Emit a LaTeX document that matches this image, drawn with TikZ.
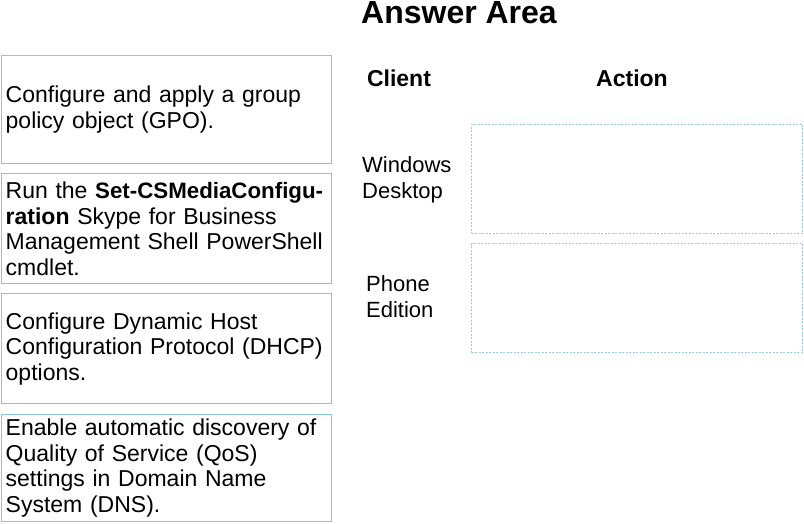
\documentclass[tikz,border=0pt]{standalone}
\usepackage{fontspec}
\setmainfont{Liberation Sans}
\usetikzlibrary{positioning}
\definecolor{boxblue}{HTML}{86C6DE}
\definecolor{dropblue}{HTML}{96CDD8}

\begin{document}
\begin{tikzpicture}[x=1pt, y=-1pt,
    choice/.style={draw=boxblue, line width=1.4pt, anchor=north west,
        minimum width=330pt, minimum height=108pt, inner xsep=4pt,
        text width=322pt, align=left, font=\fontsize{23}{25.5}\selectfont},
    dropzone/.style={draw=dropblue, line width=1pt, dash pattern=on 2pt off 1.5pt,
        anchor=north west, minimum width=331pt, minimum height=109pt},
    client/.style={anchor=west, align=left, inner sep=0pt,
        font=\fontsize{22}{26}\selectfont},
    head/.style={font=\bfseries\fontsize{23}{26}\selectfont}]
    \useasboundingbox (0,0) rectangle (804,524);

    % Actions to choose from
    \node[choice] (gpo) at (1,55) {Configure and apply a group\\policy object (GPO).};
    \node[choice, minimum height=110pt] (cmdlet) at (1,173)
        {\mbox{Run the \textbf{\fontsize{22.3}{25.5}\selectfont Set-CSMediaConfigu-}}\\\textbf{ration} Skype for Business\\Management Shell PowerShell\\cmdlet.};
    \node[choice, minimum height=110pt] (dhcp) at (1,293)
        {Configure Dynamic Host\\Configuration Protocol (DHCP)\\options.};
    \node[choice, minimum height=107pt] (dns) at (1,414)
        {Enable automatic discovery of\\Quality of Service (QoS)\\settings in Domain Name\\System (DNS).};

    % Answer area
    \node[font=\bfseries\fontsize{32}{36}\selectfont] (title) at (459,13) {Answer Area};
    \node[head] (clienthead) at (399,78) {Client};
    \node[head] (actionhead) at (632,78) {Action};

    \node[client] (desktop) at (362,180) {Windows\\Desktop};
    \node[client] (phone) at (366,297) {Phone\\Edition};

    \node[dropzone] (desktopzone) at (471,124) {};
    \node[dropzone] (phonezone) at (471,243) {};
\end{tikzpicture}
\end{document}
